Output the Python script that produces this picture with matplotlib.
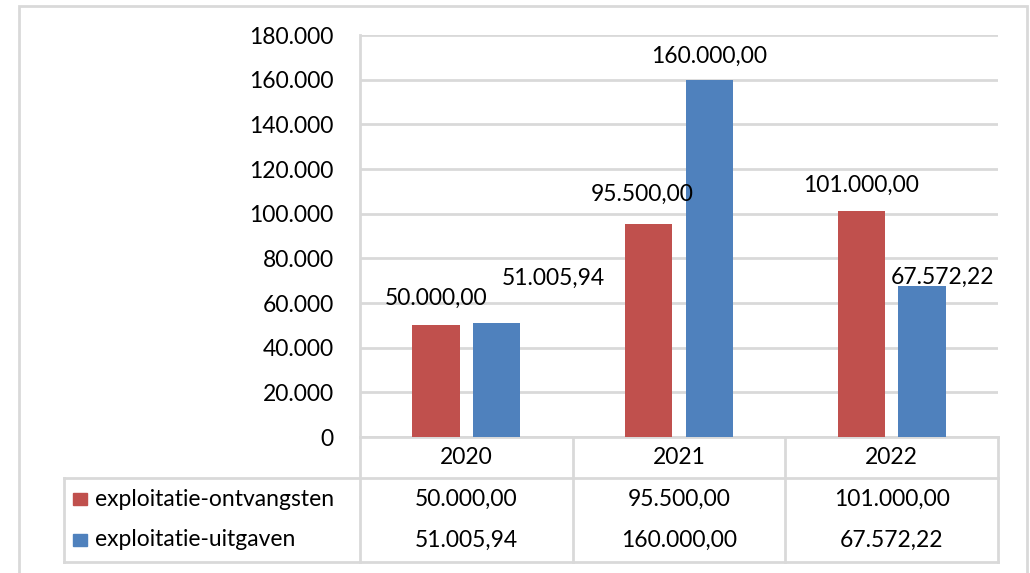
import matplotlib
matplotlib.use("Agg")
import matplotlib.pyplot as plt
from matplotlib.patches import Rectangle
from matplotlib.transforms import blended_transform_factory

years = ["2020", "2021", "2022"]
series = ["exploitatie-ontvangsten", "exploitatie-uitgaven"]
ontvangsten = [50000.00, 95500.00, 101000.00]
uitgaven = [51005.94, 160000.00, 67572.22]
colors = ["#C0504D", "#4F81BD"]
yticks = [0, 20000, 40000, 60000, 80000, 100000, 120000, 140000, 160000, 180000]

# label offsets in pixels (excel places them a bit odd)
label_offsets = [[(0, 27), (-6, 29), (0, 26)],
                 [(57, 45), (0, 23), (20, 9)]]


def nl(v, dec=2):
    s = f"{v:,.{dec}f}"
    return s.replace(",", "X").replace(".", ",").replace("X", ".")


plt.rcParams['font.family'] = ['Lato', 'DejaVu Sans']
FS = 16.5
GRID = "#D9D9D9"

W, H = 1030, 573
fig = plt.figure(figsize=(W / 100, H / 100), dpi=100)


def fx(px):
    return px / W


def fy(py):
    return 1 - py / H


# outer chart frame
fig.patches.append(Rectangle((fx(19), fy(600)), fx(1027) - fx(19), fy(6) - fy(600),
                             transform=fig.transFigure, fill=False,
                             edgecolor=GRID, lw=2))

x0, x1, y0, y1 = 360, 998, 35, 437
ax = fig.add_axes([fx(x0), fy(y1), fx(x1) - fx(x0), fy(y0) - fy(y1)])
ax.set_xlim(0, 3)
ax.set_ylim(0, 180000)

data = [ontvangsten, uitgaven]
bw = 0.222
shift = 0.143
for s, vals in enumerate(data):
    xs = [i + 0.5 + (shift if s else -shift) for i in range(len(years))]
    ax.bar(xs, vals, width=bw, color=colors[s], zorder=3)
    for i, v in enumerate(vals):
        dx, dy = label_offsets[s][i]
        ax.annotate(nl(v), (xs[i], v), xytext=(dx, dy), textcoords="offset pixels",
                    ha="center", va="center", fontsize=FS, color="black", zorder=4)

ax.set_yticks(yticks)
ax.set_yticklabels([nl(t, 0) if t else "0" for t in yticks], fontsize=FS)
ax.tick_params(axis="y", length=0, pad=19)
ax.set_xticks([])
ax.grid(axis="y", color=GRID, lw=2, zorder=0)
for sp in ["top", "right", "bottom"]:
    ax.spines[sp].set_visible(False)
ax.spines["left"].set_color(GRID)
ax.spines["left"].set_linewidth(2)

# data table under the plot
ph = y1 - y0
trans = blended_transform_factory(ax.transData, ax.transAxes)


def ya(py):
    return (y1 - py) / ph


r0, r1, r2 = 437, 478, 562
rows_y = [458, 499, 540]
lk = dict(transform=trans, color=GRID, lw=2, clip_on=False, zorder=1)
left_x = (64 - x0) / (x1 - x0) * 3
ax.plot([0, 3], [ya(r0)] * 2, **lk)
ax.plot([left_x, 3], [ya(r1)] * 2, **lk)
ax.plot([left_x, 3], [ya(r2)] * 2, **lk)
ax.plot([left_x, left_x], [ya(r1), ya(r2)], **lk)
for b in range(4):
    ax.plot([b, b], [ya(r0), ya(r2)], **lk)

for i, yr in enumerate(years):
    ax.text(i + 0.5, ya(rows_y[0]), yr, transform=trans, ha="center", va="center",
            fontsize=FS, clip_on=False)
    for s, vals in enumerate(data):
        ax.text(i + 0.5, ya(rows_y[s + 1]), nl(vals[i]), transform=trans,
                ha="center", va="center", fontsize=FS, clip_on=False)

for s, name in enumerate(series):
    cy = rows_y[s + 1]
    fig.patches.append(Rectangle((fx(73), fy(cy + 6)), fx(14), 12 / H,
                                 transform=fig.transFigure, color=colors[s]))
    fig.text(fx(95), fy(cy), name, ha="left", va="center", fontsize=FS)

fig.savefig("out.png", dpi=100, facecolor="white")
